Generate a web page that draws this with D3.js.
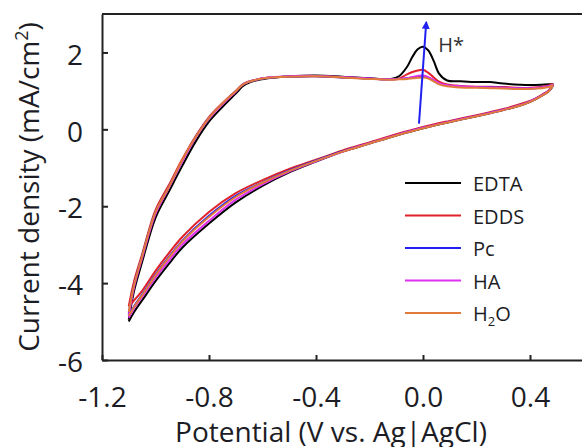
<!DOCTYPE html>
<html>
<head>
<meta charset="utf-8">
<script src="https://cdn.jsdelivr.net/npm/d3@7"></script>
<style>
  html, body { margin: 0; padding: 0; background: #fff; }
  svg { display: block; font-family: "Open Sans", sans-serif; }
</style>
</head>
<body>
<svg id="chart" width="582" height="447"></svg>
<script>
// potential sweep: anodic from -1.1 V up to 0.485 V, then back down
const potential = [
  -1.10, -1.08, -1.05, -1.00, -0.95, -0.90, -0.85, -0.80, -0.75, -0.70, -0.67, -0.63,
  -0.58, -0.50, -0.40, -0.30, -0.20, -0.12, -0.09, -0.06, -0.04, -0.02, 0.00, 0.02,
  0.04, 0.06, 0.09, 0.14, 0.20, 0.25, 0.30, 0.40, 0.47, 0.485,
  0.47, 0.45, 0.42, 0.38, 0.30, 0.20, 0.10, 0.00, -0.10, -0.20, -0.30, -0.40,
  -0.50, -0.60, -0.70, -0.80, -0.90, -0.95, -1.00, -1.05, -1.08, -1.10
];

const edta = [
  -4.95, -4.2, -3.45, -2.3, -1.62, -0.95, -0.32, 0.2, 0.58, 0.93, 1.14, 1.26,
  1.33, 1.38, 1.40, 1.37, 1.33, 1.31, 1.38, 1.62, 1.88, 2.08, 2.15, 2.05,
  1.78, 1.45, 1.27, 1.25, 1.23, 1.23, 1.19, 1.15, 1.17, 1.16,
  0.99, 0.90, 0.78, 0.66, 0.50, 0.34, 0.19, 0.03, -0.16, -0.37, -0.58, -0.84,
  -1.12, -1.47, -1.9, -2.45, -3.08, -3.5, -3.95, -4.45, -4.75, -5.0
];
const edds = [
  -4.6, -3.95, -3.25, -2.1, -1.45, -0.78, -0.18, 0.32, 0.68, 1.0, 1.19, 1.28,
  1.34, 1.37, 1.38, 1.35, 1.32, 1.30, 1.32, 1.43, 1.49, 1.53, 1.55, 1.47,
  1.35, 1.24, 1.17, 1.13, 1.11, 1.11, 1.10, 1.08, 1.14, 1.18,
  1.01, 0.92, 0.80, 0.69, 0.53, 0.37, 0.22, 0.06, -0.13, -0.34, -0.55, -0.79,
  -1.03, -1.32, -1.66, -2.15, -2.8, -3.22, -3.68, -4.2, -4.45, -4.62
];
const pc = [
  -4.8, -4.05, -3.3, -2.15, -1.5, -0.82, -0.2, 0.3, 0.66, 0.99, 1.18, 1.28,
  1.34, 1.37, 1.38, 1.35, 1.32, 1.30, 1.31, 1.33, 1.35, 1.37, 1.38, 1.34,
  1.27, 1.19, 1.14, 1.11, 1.10, 1.09, 1.08, 1.06, 1.12, 1.16,
  1.00, 0.91, 0.79, 0.67, 0.51, 0.35, 0.20, 0.04, -0.15, -0.36, -0.57, -0.81,
  -1.07, -1.38, -1.73, -2.25, -2.9, -3.32, -3.78, -4.3, -4.6, -4.85
];
const ha = [
  -4.85, -4.1, -3.35, -2.2, -1.52, -0.84, -0.22, 0.28, 0.65, 0.98, 1.18, 1.28,
  1.35, 1.38, 1.39, 1.36, 1.32, 1.30, 1.31, 1.33, 1.36, 1.39, 1.40, 1.36,
  1.28, 1.20, 1.15, 1.12, 1.10, 1.09, 1.08, 1.07, 1.12, 1.16,
  1.00, 0.91, 0.79, 0.67, 0.51, 0.35, 0.20, 0.04, -0.15, -0.36, -0.58, -0.83,
  -1.1, -1.43, -1.83, -2.38, -3.0, -3.42, -3.86, -4.36, -4.65, -4.9
];
const water = [
  -4.75, -4.05, -3.3, -2.15, -1.5, -0.8, -0.2, 0.3, 0.67, 0.99, 1.18, 1.28,
  1.34, 1.37, 1.38, 1.35, 1.31, 1.29, 1.30, 1.31, 1.33, 1.34, 1.35, 1.32,
  1.25, 1.17, 1.12, 1.09, 1.08, 1.07, 1.06, 1.05, 1.10, 1.15,
  0.99, 0.90, 0.78, 0.66, 0.50, 0.34, 0.19, 0.03, -0.16, -0.37, -0.58, -0.82,
  -1.08, -1.39, -1.76, -2.28, -2.92, -3.34, -3.8, -4.32, -4.62, -4.85
];

const seriesNames = ["EDTA", "EDDS", "Pc", "HA", "H2O"];
const seriesValues = [edta, edds, pc, ha, water];
const seriesColors = ["#000000", "#e0202a", "#2020f0", "#e030f0", "#e07b39"];

const xTicks = [-1.2, -0.8, -0.4, 0.0, 0.4];
const yTicks = [-6, -4, -2, 0, 2];

// H* arrow, in data units
const arrowFrom = [-0.015, 0.15];
const arrowTo = [0.012, 2.78];

const svg = d3.select("#chart");
const margin = {top: 14, left: 102, bottom: 87};
const height = 447 - margin.top - margin.bottom;
const width = 481.5; // right edge falls just outside the picture

const x = d3.scaleLinear().domain([-1.2, 0.6]).range([0, width]);
const y = d3.scaleLinear().domain([-6, 3]).range([height, 0]);

const textColor = "#1c1c24";

const g = svg.append("g").attr("transform", `translate(${margin.left},${margin.top})`);

const fmt = d => d3.format(".1f")(d).replace("\u2212", "-");

// axes, ticks pointing inward
const xAxis = g.append("g")
    .attr("transform", `translate(0,${height})`)
    .call(d3.axisBottom(x).tickValues(xTicks).tickFormat(fmt).tickSizeInner(-5).tickSizeOuter(0).tickPadding(27));
const yAxis = g.append("g")
    .call(d3.axisLeft(y).tickValues(yTicks).tickFormat(d => String(d)).tickSizeInner(-6).tickSizeOuter(0).tickPadding(19));

[xAxis, yAxis].forEach(ax => {
    ax.select(".domain").attr("stroke", "#222").attr("stroke-width", 2);
    ax.selectAll(".tick line").attr("stroke", "#222").attr("stroke-width", 2);
    ax.selectAll(".tick text").attr("fill", textColor).style("font-size", "28px").style("font-family", "Open Sans, sans-serif");
});
yAxis.selectAll(".tick text").attr("dy", "0.42em");

// top frame line
g.append("line")
    .attr("x1", 0).attr("x2", width)
    .attr("y1", 0).attr("y2", 0)
    .attr("stroke", "#222").attr("stroke-width", 2);

// curves
const line = d3.line()
    .x(d => x(d[0]))
    .y(d => y(d[1]))
    .curve(d3.curveCatmullRom.alpha(0.5));

seriesValues.forEach((vals, i) => {
    const pts = potential.map((p, k) => [p, vals[k]]);
    g.append("path")
        .datum(pts)
        .attr("fill", "none")
        .attr("stroke", seriesColors[i])
        .attr("stroke-width", 2)
        .attr("stroke-linejoin", "round")
        .attr("d", line);
});

// arrow
svg.append("defs").append("marker")
    .attr("id", "head")
    .attr("viewBox", "0 0 10 10")
    .attr("refX", 8).attr("refY", 5)
    .attr("markerWidth", 4).attr("markerHeight", 4)
    .attr("orient", "auto")
    .append("path")
    .attr("d", "M0,0 L10,5 L0,10 z")
    .attr("fill", "#2020f0");

g.append("line")
    .attr("x1", x(arrowFrom[0])).attr("y1", y(arrowFrom[1]))
    .attr("x2", x(arrowTo[0])).attr("y2", y(arrowTo[1]))
    .attr("stroke", "#2020f0").attr("stroke-width", 2)
    .attr("marker-end", "url(#head)");

g.append("text")
    .attr("x", x(arrowTo[0]) + 12)
    .attr("y", 38)
    .attr("fill", "#333")
    .style("font-size", "20px")
    .text("H*");

// legend
const legend = svg.append("g").attr("transform", "translate(405,183)");
seriesNames.forEach((name, i) => {
    const row = legend.append("g").attr("transform", `translate(0,${i * 32.5})`);
    row.append("line")
        .attr("x1", 0).attr("x2", 56)
        .attr("stroke", seriesColors[i]).attr("stroke-width", 2);
    const t = row.append("text")
        .attr("x", 68).attr("y", 8)
        .attr("fill", textColor)
        .style("font-size", "20px");
    if (name === "H2O") {
        t.append("tspan").text("H");
        t.append("tspan").attr("dy", 5).style("font-size", "13px").text("2");
        t.append("tspan").attr("dy", -5).text("O");
    } else {
        t.text(name);
    }
});

// axis titles
svg.append("text")
    .attr("x", 331).attr("y", 442)
    .attr("text-anchor", "middle")
    .attr("fill", textColor)
    .style("font-size", "28px")
    .text("Potential (V vs. Ag|AgCl)");

const yTitle = svg.append("text")
    .attr("transform", "translate(39,187) rotate(-90)")
    .attr("text-anchor", "middle")
    .attr("fill", textColor)
    .style("font-size", "28px");
yTitle.append("tspan").text("Current density (mA/cm");
yTitle.append("tspan").attr("dy", -11).style("font-size", "18px").text("2");
yTitle.append("tspan").attr("dy", 11).text(")");
</script>
</body>
</html>
